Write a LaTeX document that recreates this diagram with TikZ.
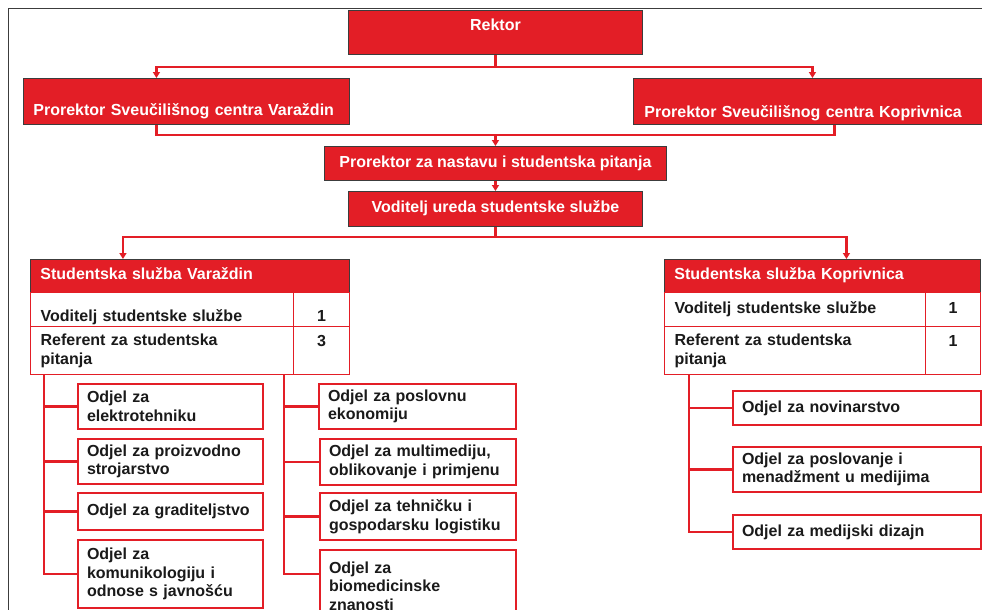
\documentclass[tikz,border=0pt]{standalone}
\usepackage{fontspec}
\setmainfont{Liberation Sans}
\usetikzlibrary{arrows.meta,calc,positioning}
\definecolor{UniRed}{HTML}{E31E26}
\definecolor{Ink}{HTML}{1A1A1A}
\definecolor{FrameGray}{HTML}{3C3C3C}

\begin{document}
\begin{tikzpicture}[x=1pt,y=-1pt,
      font=\fontsize{16}{18.5}\selectfont\bfseries,
      head/.style={draw=Ink!85,fill=UniRed,text=white,line width=0.9pt,
                   anchor=north west,inner xsep=10pt,inner ysep=4pt},
      cell/.style={draw=UniRed,fill=white,text=Ink,line width=1.3pt,
                   anchor=north west,inner xsep=10pt,inner ysep=3pt,align=left},
      dept/.style={draw=UniRed,fill=white,text=Ink,line width=2pt,
                   anchor=north west,inner xsep=9pt,inner ysep=3pt,align=left},
      link/.style={draw=UniRed,line width=2.1pt},
      flow/.style={link,-{Triangle[width=7pt,length=6pt]}}]
    \useasboundingbox (0,0) rectangle (982,610);
    % Page frame, open on the right and at the bottom.
    \draw[FrameGray,line width=1pt] (8,610) |- (982,9);

    % Management levels.
    \node[head,minimum width=294pt,minimum height=44pt,
          text height=16pt,text depth=20pt] (rektor) at (348,10) {Rektor};
    \node[head,text width=306pt,align=left,minimum height=46pt,
          text height=33pt,text depth=5pt] (provz) at (23,78)
      {Prorektor Sveučilišnog centra Varaždin};
    \node[head,inner xsep=11pt,text width=328pt,align=left,minimum height=46pt,
          text height=35pt,text depth=3pt] (prokc) at (633,78)
      {Prorektor Sveučilišnog centra Koprivnica};
    \node[head,minimum width=342pt,minimum height=34pt,
          text height=12pt,text depth=4pt] (pronast) at (324,146)
      {Prorektor za nastavu i studentska pitanja};
    \node[head,minimum width=294pt,minimum height=35pt,
          text height=12pt,text depth=4pt] (vodured) at (348,191)
      {Voditelj ureda studentske službe};

    \draw[flow] (rektor.south) -- ++(0,12.5) -| ([xshift=-30pt]provz.north);
    \draw[flow] (rektor.south) -- ++(0,12.5) -| ([xshift=4pt]prokc.north);
    \draw[link] ([xshift=-30pt]provz.south) -- ++(0,10) coordinate (busB)
      -| ([xshift=26pt]prokc.south);
    \draw[flow] (pronast.north |- busB) -- (pronast.north);
    \draw[flow] (pronast.south) -- (vodured.north);

    % Student offices with their staff tables.
    \node[head,text width=299pt,align=left,minimum height=33pt,
          text height=12pt,text depth=4pt] (vzHead) at (30,259)
      {Studentska služba Varaždin};
    \node[cell,text width=243pt,minimum height=34pt,
          text height=26pt,text depth=2pt] (vzVod) at (30,292)
      {Voditelj studentske službe};
    \node[cell,text width=36pt,align=center,minimum height=34pt,
          text height=26pt,text depth=2pt] (vzVodN) at (293,292) {1};
    \node[cell,text width=243pt,minimum height=48pt] (vzRef) at (30,326)
      {Referent za studentska\\pitanja};
    \node[cell,text width=36pt,align=center,minimum height=48pt,
          text height=17pt,text depth=25pt] (vzRefN) at (293,326) {3};

    \node[head,text width=296pt,align=left,minimum height=33pt,
          text height=12pt,text depth=4pt] (kcHead) at (664,259)
      {Studentska služba Koprivnica};
    \node[cell,text width=241pt,minimum height=34pt,
          text height=12pt,text depth=4pt] (kcVod) at (664,292)
      {Voditelj studentske službe};
    \node[cell,text width=35pt,align=center,minimum height=34pt,
          text height=12pt,text depth=4pt] (kcVodN) at (925,292) {1};
    \node[cell,text width=241pt,minimum height=48pt] (kcRef) at (664,326)
      {Referent za studentska\\pitanja};
    \node[cell,text width=35pt,align=center,minimum height=48pt,
          text height=17pt,text depth=25pt] (kcRefN) at (925,326) {1};

    \draw[flow] (vodured.south) -- ++(0,10.5) -| ([xshift=-67pt]vzHead.north);
    \draw[flow] (vodured.south) -- ++(0,10.5) -| ([xshift=24pt]kcHead.north);

    % Departments in Varazdin, two columns.
    \node[dept,text width=167pt,minimum height=45pt] (od1) at (77,383)
      {Odjel za\\elektrotehniku};
    \node[dept,text width=167pt,minimum height=45pt] (od2) at (77,438)
      {Odjel za proizvodno\\strojarstvo};
    \node[dept,text width=167pt,minimum height=37pt] (od3) at (77,492)
      {Odjel za graditeljstvo};
    \node[dept,text width=167pt,minimum height=68pt] (od4) at (77,539)
      {Odjel za\\komunikologiju i\\odnose s javnošću};
    \node[dept,text width=179pt,minimum height=45pt] (oe1) at (318,383)
      {Odjel za poslovnu\\ekonomiju};
    \node[dept,text width=178pt,minimum height=46pt] (oe2) at (319,438)
      {Odjel za multimediju,\\oblikovanje i primjenu};
    \node[dept,text width=178pt,minimum height=47pt] (oe3) at (319,492)
      {Odjel za tehničku i\\gospodarsku logistiku};
    \node[dept,text width=178pt,minimum height=72pt] (oe4) at (319,549)
      {Odjel za\\biomedicinske\\znanosti};

    \draw[link] ([xshift=14pt]vzRef.south west) coordinate (vzTrunk)
      |- (od4.west);
    \foreach \d in {od1,od2,od3}
      \draw[link] (vzTrunk |- \d.west) -- (\d.west);
    \draw[link] ([xshift=-10pt]vzRef.south east) coordinate (vzTrunkB)
      |- ([yshift=12pt]oe4.west);
    \foreach \d in {oe1,oe2,oe3}
      \draw[link] (vzTrunkB |- \d.west) -- (\d.west);

    % Departments in Koprivnica.
    \node[dept,text width=230pt,minimum height=34pt] (ok1) at (732,390)
      {Odjel za novinarstvo};
    \node[dept,text width=230pt,minimum height=45pt] (ok2) at (732,446)
      {Odjel za poslovanje i\\menadžment u medijima};
    \node[dept,text width=230pt,minimum height=34pt] (ok3) at (732,514)
      {Odjel za medijski dizajn};

    \draw[link] ([xshift=25pt]kcRef.south west) coordinate (kcTrunk)
      |- (ok3.west);
    \foreach \d in {ok1,ok2}
      \draw[link] (kcTrunk |- \d.west) -- (\d.west);
  \end{tikzpicture}
\end{document}
